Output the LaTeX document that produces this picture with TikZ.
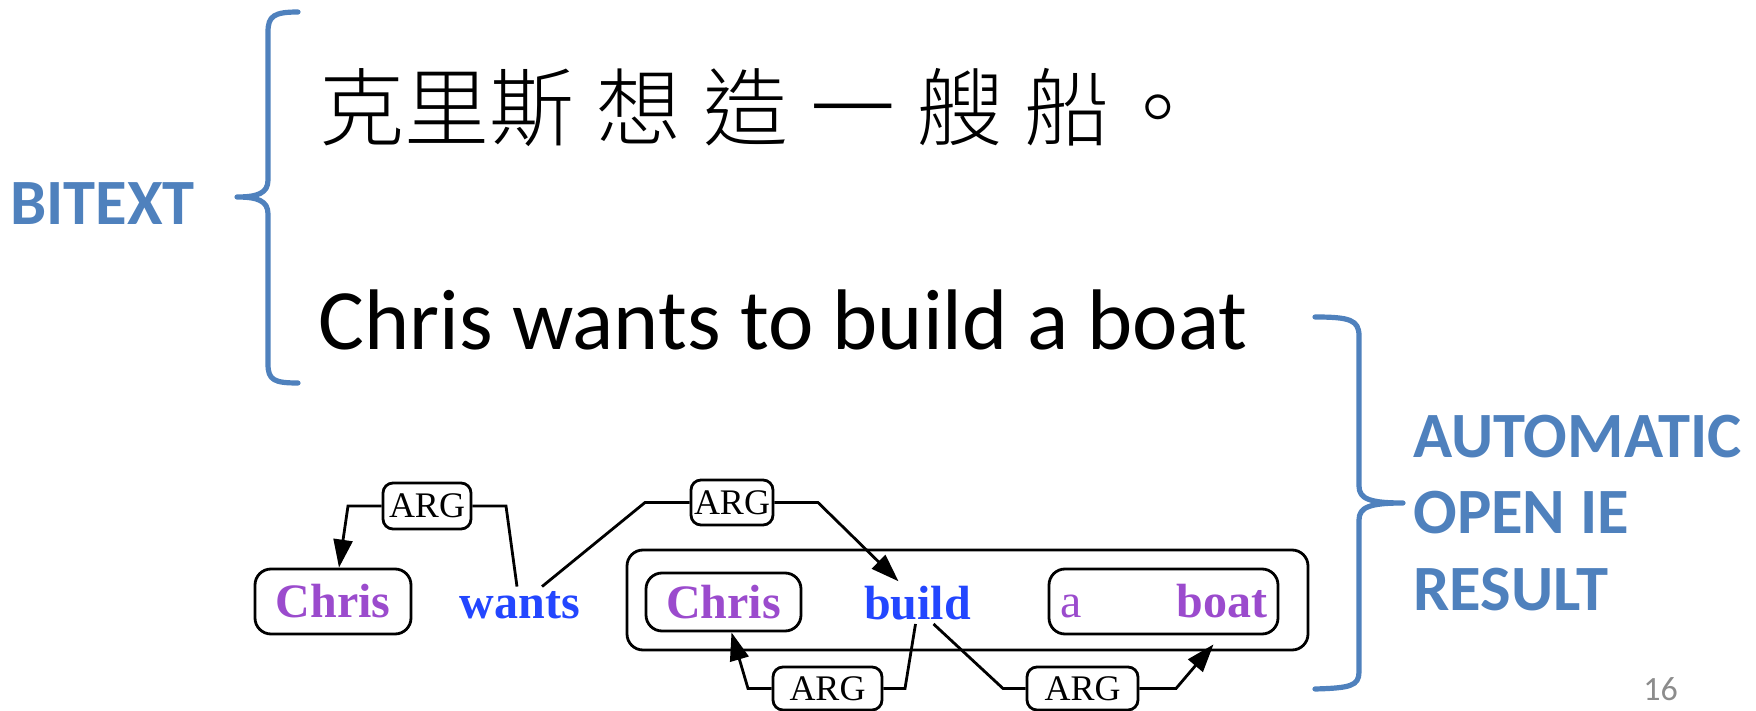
\documentclass[tikz,border=0pt]{standalone}
\usepackage{fontspec}
\setmainfont{Liberation Serif}
\newfontfamily\calibri{Carlito}
\newfontfamily\cjk[UprightFont={* Light}]{Noto Sans CJK TC}
\usetikzlibrary{arrows.meta,calc}
\definecolor{ppt}{HTML}{4F81BD}
\definecolor{wpurple}{RGB}{155,75,205}
\definecolor{wblue}{RGB}{35,70,255}
\definecolor{pgnum}{RGB}{140,140,140}
\begin{document}
\begin{tikzpicture}[x=0.5pt,y=-0.5pt,
 lbl/.style={font=\calibri\bfseries\fontsize{32.3}{34}\selectfont, text=ppt, inner sep=0, anchor=base west},
 brace/.style={draw=ppt, line width=2.6pt, line cap=round, line join=round},
 ent/.style={draw, line width=1.4pt, rounded corners=8pt, font=\bfseries\fontsize{24}{28}\selectfont, text=wpurple, inner sep=0},
 rel/.style={font=\bfseries\fontsize{24}{28}\selectfont, text=wblue, inner sep=2pt, anchor=base},
 argbox/.style={draw, line width=1.4pt, rounded corners=5pt, font=\fontsize{18}{20}\selectfont, inner sep=0, fill=white},
 conn/.style={line width=1.4pt, line join=miter},
 arr/.style={conn, -{Triangle[length=14pt,width=9.5pt]}},
]
\useasboundingbox (0,0) rectangle (1756,711);

% top texts
\node[anchor=base west, inner sep=0, font=\cjk\fontsize{42.5}{48}\selectfont] (zh) at (319.5,140)
  {克里斯\hspace{11pt}想\hspace{11pt}造\hspace{11pt}一\hspace{11pt}艘\hspace{11pt}船\hspace{3pt}。};
\node[anchor=base west, inner sep=0, font=\calibri\fontsize{43}{48}\selectfont] (en) at (318,350)
  {Chris wants to build a boat};

% labels
\node[lbl] (bitext) at (10,225) {BITEXT};
\node[lbl] (auto) at (1413,457) {AUTOMATIC};
\node[lbl] (openie) at (1413,533) {OPEN IE};
\node[lbl] (result) at (1413,610) {RESULT};
\node[anchor=base west, inner sep=0, font=\calibri\fontsize{17}{19}\selectfont, text=pgnum] (pg) at (1643,700) {16};

% braces
\draw[brace] (298,12) .. controls (274,12) and (268,16) .. (268,32) -- (268,180)
  .. controls (268,193) and (258,197) .. (237,197)
  .. controls (258,197) and (268,201) .. (268,214) -- (268,364)
  .. controls (268,380) and (274,383) .. (298,383);
\draw[brace] (1315,317) .. controls (1350,317) and (1359,320) .. (1359,336) -- (1359,486)
  .. controls (1359,499) and (1370,503) .. (1403,503)
  .. controls (1370,503) and (1359,507) .. (1359,520) -- (1359,672)
  .. controls (1359,686) and (1350,688) .. (1315,689);

% tree
\node[draw, line width=1.4pt, rounded corners=8pt, minimum width=340.5pt, minimum height=50pt] (big) at (967.5,600) {};
\node[ent, minimum width=78pt, minimum height=32.5pt] (chris1) at (333,601.5) {Chris};
\node[rel] (wants) at (520,618) {wants};
\node[ent, minimum width=77.5pt, minimum height=29pt] (chris2) at (723.5,602) {Chris};
\node[rel] (build) at (917.5,619) {build};
\node[ent, minimum width=114.5pt, minimum height=32.5pt] (aboat) at (1163.5,601.5) {{\mdseries a}\hspace{47.5pt}boat};

\node[argbox, minimum width=44pt, minimum height=23pt] (arg1) at (427,506) {ARG};
\node[argbox, minimum width=41pt, minimum height=22.5pt] (arg2) at (732,502.5) {ARG};
\node[argbox, minimum width=54.5pt, minimum height=21.5pt] (arg3) at (827.5,688.5) {ARG};
\node[argbox, minimum width=55.5pt, minimum height=21.5pt] (arg4) at (1082.5,688.5) {ARG};

\draw[arr] (arg1.west) -- (348,506) -- ($(chris1.north)+(6,0)$);
\draw[conn] (arg1.east) -- (506,506) -- ($(wants.north)+(-3,0)$);
\draw[conn] ($(wants.north)+(22,0)$) -- (645,502.5) -- (arg2.west);
\draw[arr] (arg2.east) -- (818,502.5) -- ($(build.north)+(-19,0)$);
\draw[conn] ($(build.south)+(-2,0)$) -- (905,688.5) -- (arg3.east);
\draw[arr] (arg3.west) -- (748,688.5) -- ($(chris2.south)+(8,0)$);
\draw[conn] ($(build.south)+(16,0)$) -- (1003,688.5) -- (arg4.west);
\draw[arr] (arg4.east) -- (1176,688.5) -- ($(aboat.south)+(50,9)$);
\end{tikzpicture}
\end{document}
